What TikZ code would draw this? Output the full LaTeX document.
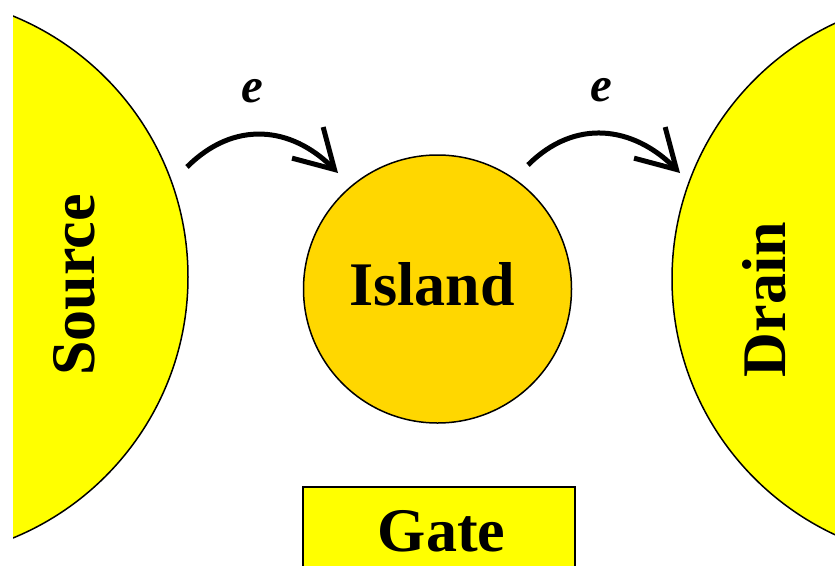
\documentclass[tikz,border=0pt]{standalone}
\usepackage{fontspec}
\setmainfont{Liberation Serif}
\usetikzlibrary{arrows.meta}
\definecolor{leadyellow}{HTML}{FFFF00}
\definecolor{islandgold}{HTML}{FFD700}
\begin{document}
\begin{tikzpicture}[x=1pt,y=-1pt,
  lead/.style={circle,draw=black,line width=1.5pt,fill=leadyellow,inner sep=0pt,minimum size=564pt},
  dot/.style={circle,draw=black,line width=1.5pt,fill=islandgold,inner sep=0pt,minimum size=268pt},
  gatebox/.style={rectangle,draw=black,line width=1.5pt,fill=leadyellow,inner sep=0pt,minimum width=272pt,minimum height=120pt},
  lbl/.style={inner sep=0pt,font=\fontsize{62}{62}\selectfont\bfseries},
  elbl/.style={inner sep=0pt,font=\fontsize{49}{49}\selectfont\bfseries\itshape},
  hop/.style={line width=5pt,-{Straight Barb[length=38pt,width=44pt]}}
]
\useasboundingbox (0,0) rectangle (835,565);
\begin{scope}
  \clip (13,0) rectangle (835,565);
  \node[lead] (source) at (-94,277) {};
  \node[lead] (drain) at (954,279) {};
  \node[gatebox,anchor=north west] (gate) at (302,486) {};
\end{scope}
\node[dot] (island) at (437.5,289) {};
\node[lbl] (islandtxt) at (432,284) {Island};
\node[lbl,rotate=90] (sourcetxt) at (74,285) {Source};
\node[lbl,rotate=90] (draintxt) at (764,299.5) {Drain};
\node[lbl] (gatetxt) at (441.5,531.5) {Gate};
\node[elbl] (e1) at (252.5,91.5) {e};
\node[elbl] (e2) at (601,90.5) {e};
\coordinate (h1a) at (187,167);
\coordinate (h1b) at (338,173);
\coordinate (h2a) at (528,165);
\coordinate (h2b) at (680,173);
\draw[hop] (h1a) .. controls (234,120) and (291,126) .. (h1b);
\draw[hop] (h2a) .. controls (575,118) and (633,126) .. (h2b);
\end{tikzpicture}
\end{document}
